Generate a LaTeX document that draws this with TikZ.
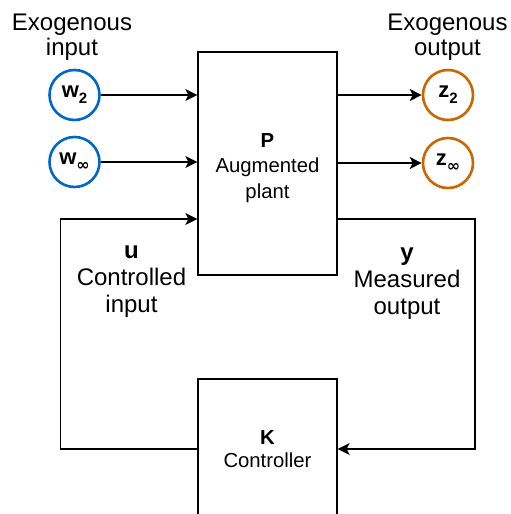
\documentclass[tikz,border=0pt]{standalone}
\usepackage{fontspec}
\setmainfont{Liberation Sans}
\newfontfamily\dvsans{DejaVu Sans}
\usetikzlibrary{arrows.meta}
\definecolor{sigblue}{HTML}{0066CC}
\definecolor{sigorange}{HTML}{CC6600}
\tikzset{
  biglab/.style={inner sep=0pt, anchor=base, font=\fontsize{24}{28}\selectfont},
  boxlab/.style={inner sep=0pt, anchor=base, font=\fontsize{20.3}{24}\selectfont},
  blockbox/.style={draw, line width=1.3pt, minimum width=139pt, inner sep=0pt},
  sig/.style={circle, draw, line width=2.6pt, minimum size=50pt, inner sep=0pt, fill=white},
  arr/.style={line width=1.3pt, -{Stealth[length=12pt,width=12pt,inset=3pt]}},
  wire/.style={line width=1.3pt}
}
\newcommand{\sigtxt}[2]{\fontsize{22}{24}\selectfont\textbf{#1}\raisebox{-6pt}{\fontsize{15}{16}\selectfont\bfseries #2}}
\begin{document}
\begin{tikzpicture}[x=1pt,y=-1pt]
\useasboundingbox (0,0) rectangle (511,514);
% blocks
\node[blockbox, minimum height=223pt] (P) at (267.5,163.5) {};
\node[blockbox, minimum height=140pt] (K) at (267.5,449) {};
% block texts
\node[boxlab] (Pt1) at (267.5,147) {\textbf{P}};
\node[boxlab] (Pt2) at (267.5,172.5) {Augmented};
\node[boxlab] (Pt3) at (267.5,198) {plant};
\node[boxlab] (Kt1) at (267.5,444) {\textbf{K}};
\node[boxlab] (Kt2) at (267.5,467) {Controller};
% signals
\node[sig, draw=sigblue] (w2) at (74.5,95) {\sigtxt{w}{2}};
\node[sig, draw=sigblue] (winf) at (74.5,162) {\sigtxt{w}{\dvsans\fontsize{16}{16}\selectfont ∞}};
\node[sig, draw=sigorange] (z2) at (448,95) {\sigtxt{z}{2}};
\node[sig, draw=sigorange] (zinf) at (448,163) {\sigtxt{z}{\dvsans\fontsize{16}{16}\selectfont ∞}};
% outside labels
\node[biglab] (ei1) at (72,30) {Exogenous};
\node[biglab] (ei2) at (72,55) {input};
\node[biglab] (eo1) at (447.5,30) {Exogenous};
\node[biglab] (eo2) at (447.5,55) {output};
\node[biglab] (u1) at (131.5,258) {\textbf{u}};
\node[biglab] (u2) at (131.5,285) {Controlled};
\node[biglab] (u3) at (131.5,312) {input};
\node[biglab] (y1) at (407,260) {\textbf{y}};
\node[biglab] (y2) at (407,287) {Measured};
\node[biglab] (y3) at (407,314) {output};
% connectors
\draw[arr] (w2.east) -- (w2.east -| P.west);
\draw[arr] (winf.east) -- (winf.east -| P.west);
\draw[arr] (z2.west -| P.east) -- (z2.west);
\draw[arr] (zinf.west -| P.east) -- (zinf.west);
\coordinate (uc) at (60.5,219);
\coordinate (yc) at (475,219);
\draw[arr] (K.west) -| (uc) -- (uc -| P.west);
\draw[arr] (yc -| P.east) -- (yc) |- (K.east);
\end{tikzpicture}
\end{document}
